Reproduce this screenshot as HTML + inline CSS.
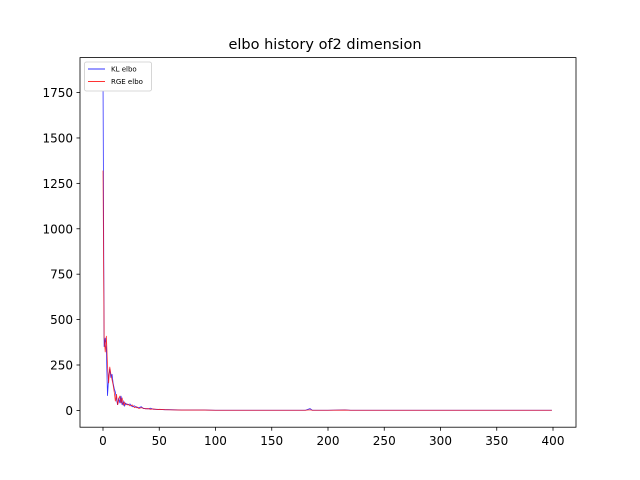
<!DOCTYPE html>
<html><head><meta charset="utf-8">
<style>
body{margin:0;background:#fff;}
svg{display:block;font-family:"DejaVu Sans","Liberation Sans",sans-serif;}
</style></head>
<body>
<svg id="chart" width="640" height="480" viewBox="0 0 640 480">
<rect x="0" y="0" width="640" height="480" fill="#fff"/>
<text x="325" y="49" text-anchor="middle" font-size="14.5">elbo history of2 dimension</text>
<g id="plot"></g>
</svg>
<script>
const iters = [0,1,2,3,4,5,6,7,8,9,10,11,12,13,14,15,16,17,18,19,20,22,24,26,28,30,32,34,36,38,40,42,45,48,50,55,60,70,80,90,100,120,140,160,180,184,186,200,215,220,240,260,280,300,320,340,360,380,399];
const klElbo = [1850,350,400,330,80,180,230,180,200,150,120,100,60,30,70,40,80,30,50,25,40,30,35,20,25,15,15,20,10,10,8,12,6,6,5,4,4,2,2,2,1,1,1,1,1,10,1,1,3,1,1,1,1,1,1,1,1,1,1];
const rgeElbo = [1320,400,320,410,250,150,240,200,170,140,100,50,90,30,60,80,40,70,30,45,30,35,25,30,15,20,10,15,12,8,10,6,8,5,6,4,3,2,2,2,1,1,1,1,1,3,1,1,2,1,1,1,1,1,1,1,1,1,1];
const xTicks = [0,50,100,150,200,250,300,350,400];
const yTicks = [0,250,500,750,1000,1250,1500,1750];

const L=80,R=576,T=57.6,B=427.2;
const xMin=-20.44,xMax=420.44,yMin=-92.5,yMax=1942.5;
const xs=v=>L+(v-xMin)/(xMax-xMin)*(R-L);
const ys=v=>B-(v-yMin)/(yMax-yMin)*(B-T);
const NS="http://www.w3.org/2000/svg";
const g=document.getElementById('plot');
function mk(tag,attrs){const e=document.createElementNS(NS,tag);for(const k in attrs)e.setAttribute(k,attrs[k]);g.appendChild(e);return e;}

function series(vals,color,name){
  const p=mk('polyline',{points:vals.map((v,i)=>xs(iters[i]).toFixed(2)+','+ys(v).toFixed(2)).join(' '),fill:'none',stroke:color,'stroke-width':0.8,'stroke-opacity':0.8});
  
  
}
series(klElbo,'#0000ff','kl-elbo-line');
series(rgeElbo,'#ff0000','rge-elbo-line');

const frame=mk('rect',{x:L,y:T,width:R-L,height:B-T,fill:'none',stroke:'#000','stroke-width':0.8});



xTicks.forEach(t=>{
  const x=xs(t);
  const l=mk('line',{x1:x,y1:B,x2:x,y2:B+3.5,stroke:'#000','stroke-width':0.8});
  
  
  const tx=mk('text',{x:x,y:B+18,'text-anchor':'middle','font-size':12});
  tx.textContent=t;
  
  
});
yTicks.forEach(t=>{
  const y=ys(t);
  const l=mk('line',{x1:L-3.5,y1:y,x2:L,y2:y,stroke:'#000','stroke-width':0.8});
  
  
  const tx=mk('text',{x:L-7,y:y+4.5,'text-anchor':'end','font-size':12});
  tx.textContent=t;
  
  
});

const lg=mk('rect',{x:84.5,y:62,width:67,height:29,fill:'#fff',stroke:'#ccc','stroke-width':0.8,rx:2});


[['KL elbo','#0000ff',69],['RGE elbo','#ff0000',81.5]].forEach(([n,c,y])=>{
  const l=mk('line',{x1:88,y1:y,x2:105,y2:y,stroke:c,'stroke-width':1,'stroke-opacity':0.8});
  
  
  const t=mk('text',{x:111,y:y+2.5,'font-size':7});
  t.textContent=n;
  
  
});
</script>
</body></html>
